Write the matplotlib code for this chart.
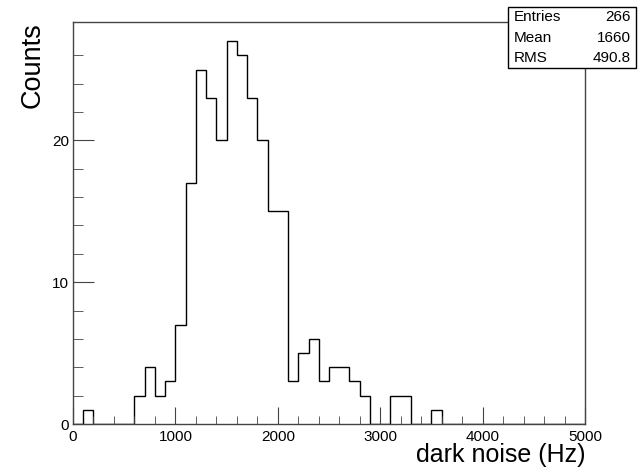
import numpy as np
import matplotlib.pyplot as plt

# bin edges 0..5000 Hz, 100 Hz wide
edges = np.arange(0, 5001, 100)
counts = [0, 1, 0, 0, 0, 0, 2, 4, 2, 3,
          7, 17, 25, 23, 20, 27, 26, 23, 20, 15,
          15, 3, 5, 6, 3, 4, 4, 3, 2, 0,
          0, 2, 2, 0, 0, 1, 0, 0, 0, 0,
          0, 0, 0, 0, 0, 0, 0, 0, 0, 0]
stats_names = ['Entries', 'Mean', 'RMS']
stats_vals = ['266', '1660', '490.8']

plt.rcParams['font.family'] = ['Liberation Sans', 'DejaVu Sans']

fig = plt.figure(figsize=(6.39, 4.72), dpi=100)
ax = fig.add_axes([73 / 639, 1 - 424 / 472, (585 - 73) / 639, (424 - 22) / 472])

ax.stairs(counts, edges, color='black', linewidth=1.0)

ax.set_xlim(0, 5000)
ax.set_ylim(0, max(counts) * 1.05)

ax.set_xticks([0, 1000, 2000, 3000, 4000, 5000])
ax.set_xticks(np.arange(0, 5001, 200), minor=True)
ax.set_yticks([0, 10, 20])
ax.set_yticks(np.arange(0, 28, 2), minor=True)

ax.tick_params(direction='in', labelsize=11, which='both', color='#444444')
ax.tick_params(axis='x', which='major', length=12, pad=4)
ax.tick_params(axis='x', which='minor', length=6)
ax.tick_params(axis='y', which='major', length=15, pad=3)
ax.tick_params(axis='y', which='minor', length=7)
ax.tick_params(top=False, right=False)

for s in ax.spines.values():
    s.set_color('#444444')
    s.set_linewidth(1.0)

fig.text(585 / 639, 1 - 462 / 472, 'dark noise (Hz)', ha='right', va='baseline', fontsize=18)
fig.text(20 / 639, 1 - 22 / 472, 'Counts', ha='left', va='top', rotation=90, fontsize=19.5)

# stats box
bx0, bx1, by0, by1 = 508 / 639, 636 / 639, 1 - 68 / 472, 1 - 7 / 472
box = plt.Rectangle((bx0, by0), bx1 - bx0, by1 - by0, transform=fig.transFigure,
                    facecolor='white', edgecolor='black', linewidth=1.0)
fig.patches.append(box)
for i, (n, v) in enumerate(zip(stats_names, stats_vals)):
    y = by1 - (i + 0.5) * (by1 - by0) / 3
    fig.text(bx0 + 6 / 639, y, n, ha='left', va='center', fontsize=11)
    fig.text(bx1 - 5 / 639, y, v, ha='right', va='center', fontsize=11)

fig.savefig('out.png', dpi=100)
